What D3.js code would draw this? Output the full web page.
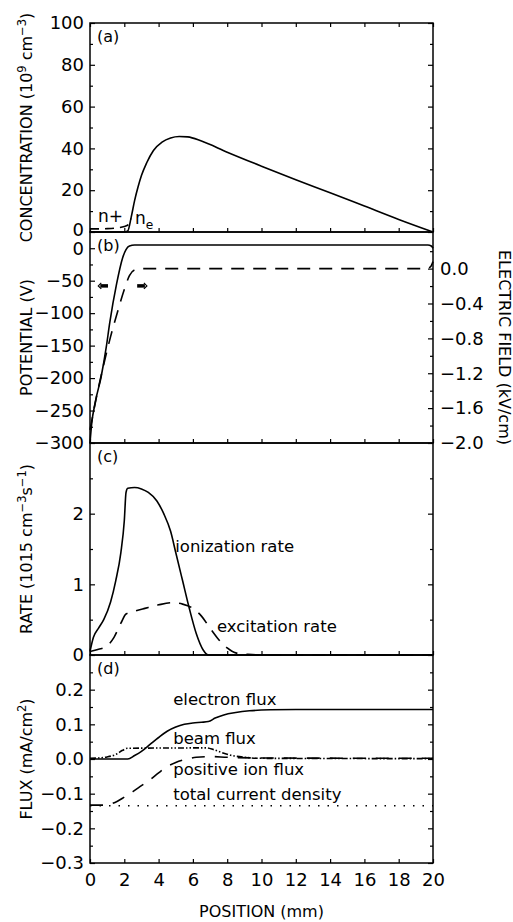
<!DOCTYPE html>
<html>
<head>
<meta charset="utf-8">
<script src="https://cdn.jsdelivr.net/npm/d3@7"></script>
<style>
  body { margin: 0; background: #fff; }
  svg text { font-family: "DejaVu Sans", sans-serif; fill: #000; }
</style>
</head>
<body>
<svg id="chart" width="513" height="922"></svg>
<script>
"use strict";

const width = 513
const height = 922

// (a) concentration, 10^9 cm^-3, [position mm, value]
const electronDensity = [[0, 0], [2.0, 0], [2.2, 0.5], [2.4, 7], [2.6, 15], [2.8, 21.5], [3.0, 27], [3.3, 33],
    [3.7, 39], [4.2, 43], [4.7, 45], [5.2, 45.7], [5.7, 45.5], [6.5, 43.5], [8, 38.2], [10, 31.5], [12, 25],
    [14, 18.8], [16, 12.4], [18, 6], [20, 0]]
const ionDensity = [[0, 1.5], [0.5, 1.5], [1.0, 1.6], [1.5, 1.9], [2.0, 2.6], [2.25, 3.6], [2.4, 6.5]]

// (b) potential (V) and electric field (kV/cm)
const potential = [[0, -300], [0.1, -270], [0.3, -238], [0.65, -198], [0.95, -152], [1.15, -115], [1.55, -55],
    [1.9, -15], [2.1, -2], [2.3, 3.5], [2.6, 5], [19.7, 5], [19.9, 3.5], [20, 0]]
const electricField = [[0, -1.85], [0.4, -1.45], [0.8, -1.1], [1.2, -0.78], [1.6, -0.5], [2.0, -0.24], [2.3, -0.08],
    [2.6, -0.015], [3.0, 0], [19.6, 0], [19.85, 0.02], [20, 0.08]]

// (c) rates, 10^15 cm^-3 s^-1
const ionizationRate = [[0, 0.05], [0.2, 0.25], [0.5, 0.38], [0.8, 0.5], [1.2, 0.75], [1.5, 1.05], [1.8, 1.45],
    [2.0, 1.9], [2.1, 2.3], [2.2, 2.36], [2.6, 2.37], [3.0, 2.35], [3.4, 2.3], [3.9, 2.18], [4.3, 2.0], [4.7, 1.75],
    [5.0, 1.45], [5.4, 1.05], [5.8, 0.65], [6.2, 0.3], [6.6, 0.07], [6.9, 0], [20, 0]]
const excitationRate = [[0, 0.05], [0.5, 0.08], [1.0, 0.13], [1.4, 0.25], [1.8, 0.45], [2.1, 0.58], [2.6, 0.62],
    [3.2, 0.66], [4.0, 0.71], [4.8, 0.74], [5.4, 0.72], [6.0, 0.66], [6.5, 0.55], [7.0, 0.38], [7.5, 0.22],
    [8.0, 0.1], [8.5, 0.03], [9.2, 0.01], [10, 0], [20, 0]]

// (d) fluxes, mA/cm2
const electronFlux = [[0, 0], [2.2, 0], [2.6, 0.01], [3.0, 0.022], [3.5, 0.042], [4.0, 0.062], [4.5, 0.08],
    [5.0, 0.092], [5.5, 0.1], [6.0, 0.104], [6.5, 0.106], [6.9, 0.108], [7.3, 0.118], [7.8, 0.127], [8.5, 0.134],
    [9.3, 0.139], [10.5, 0.142], [12, 0.143], [20, 0.143]]
const beamFlux = [[0, 0.002], [0.5, 0.003], [1.0, 0.006], [1.5, 0.013], [1.9, 0.025], [2.2, 0.031], [6.8, 0.032],
    [7.2, 0.027], [7.6, 0.02], [8.2, 0.011], [9, 0.005], [10, 0.002], [20, 0.001]]
const ionFlux = [[0, -0.133], [0.8, -0.133], [1.2, -0.13], [1.6, -0.122], [2.0, -0.11], [2.5, -0.094],
    [3.0, -0.077], [3.5, -0.06], [4.0, -0.04], [4.5, -0.022], [5.0, -0.01], [5.5, -0.002], [6.2, 0.005],
    [7, 0.007], [8, 0.005], [10, 0.003], [20, 0.002]]
const totalCurrent = [[0, -0.135], [20, -0.135]]

// ticks
const positionTicks = [0, 2, 4, 6, 8, 10, 12, 14, 16, 18, 20]
const concTicks = [0, 20, 40, 60, 80, 100]
const concMinor = [10, 30, 50, 70, 90]
const potentialTicks = [0, -50, -100, -150, -200, -250, -300]
const potentialMinor = [-25, -75, -125, -175, -225, -275]
const fieldTicks = [0, -0.4, -0.8, -1.2, -1.6, -2.0]
const fieldMinor = [0.2, -0.2, -0.6, -1.0, -1.4, -1.8]
const rateTicks = [0, 1, 2]
const rateMinor = [0.5, 1.5, 2.5]
const fluxTicks = [0.2, 0.1, 0, -0.1, -0.2, -0.3]
const fluxMinor = [0.25, 0.15, 0.05, -0.05, -0.15, -0.25]

const left = 90, right = 433
const tops = [23, 232, 443, 655], bottom = 863
const tickFont = 18

const x = d3.scaleLinear([0, 20], [left, right])
const yA = d3.scaleLinear([0, 100], [tops[1], tops[0]])
const yB = d3.scaleLinear([-300, 25], [tops[2], tops[1]])
const yE = d3.scaleLinear([-2, 0.42], [tops[2], tops[1]])
const yC = d3.scaleLinear([0, 3], [tops[3], tops[2]])
const yD = d3.scaleLinear([-0.3, 0.3], [bottom, tops[3]])

const svg = d3.select("#chart")
svg.append("rect").attr("width", width).attr("height", height).attr("fill", "#fff")

function styleAxis(g, size) {
    g.select(".domain").remove()
    g.selectAll("line").attr("stroke", "#000").attr("stroke-width", 1.2)
    g.selectAll("text").attr("font-size", size).attr("font-family", "DejaVu Sans").attr("fill", "#000")
}

function yAxes(scale, major, minor, fmt, withRight) {
    const g = svg.append("g").attr("transform", `translate(${left},0)`)
        .call(d3.axisLeft(scale).tickValues(major).tickSize(-5).tickPadding(6).tickFormat(fmt))
        .call(g => styleAxis(g, tickFont))
    svg.append("g").attr("transform", `translate(${left},0)`)
        .call(d3.axisLeft(scale).tickValues(minor).tickSize(-3).tickFormat(""))
        .call(g => styleAxis(g, tickFont))
    if (withRight) {
        svg.append("g").attr("transform", `translate(${right},0)`)
            .call(d3.axisRight(scale).tickValues(major).tickSize(-5).tickFormat(""))
            .call(g => styleAxis(g, tickFont))
        svg.append("g").attr("transform", `translate(${right},0)`)
            .call(d3.axisRight(scale).tickValues(minor).tickSize(-3).tickFormat(""))
            .call(g => styleAxis(g, tickFont))
    }
    return g
}

// frames
tops.forEach((t, i) => {
    const b = i < 3 ? tops[i + 1] : bottom
    svg.append("rect").attr("x", left).attr("y", t).attr("width", right - left).attr("height", b - t)
        .attr("fill", "none").attr("stroke", "#000").attr("stroke-width", 1.5)
    svg.append("g").attr("transform", `translate(0,${b})`)
        .call(d3.axisBottom(x).tickValues(positionTicks).tickSize(-4).tickPadding(10)
            .tickFormat(i == 3 ? d3.format("d") : ""))
        .call(g => styleAxis(g, tickFont))
})
svg.append("g").attr("transform", `translate(0,${tops[0]})`)
    .call(d3.axisTop(x).tickValues(positionTicks).tickSize(-4).tickFormat(""))
    .call(g => styleAxis(g, tickFont))

const axisA = yAxes(yA, concTicks, concMinor, d3.format("d"), true)
const axisB = yAxes(yB, potentialTicks, potentialMinor, d3.format("d"), false)
yAxes(yC, rateTicks, rateMinor, d3.format("d"), true)
yAxes(yD, fluxTicks, fluxMinor, d3.format(".1f"), true)

// the two zeros at the a/b boundary sit very close, nudge them apart a little
axisA.selectAll(".tick text").filter(d => d == 0).attr("y", -2)
axisB.selectAll(".tick text").filter(d => d == 0).attr("y", 1)

// right field axis
svg.append("g").attr("transform", `translate(${right},0)`)
    .call(d3.axisRight(yE).tickValues(fieldTicks).tickSize(-5).tickPadding(7).tickFormat(d3.format(".1f")))
    .call(g => styleAxis(g, tickFont))
svg.append("g").attr("transform", `translate(${right},0)`)
    .call(d3.axisRight(yE).tickValues(fieldMinor).tickSize(-3).tickFormat(""))
    .call(g => styleAxis(g, tickFont))

// curves
function curve(data, yScale, dash) {
    const line = d3.line().x(d => x(d[0])).y(d => yScale(d[1])).curve(d3.curveMonotoneX)
    svg.append("path").datum(data).attr("d", line)
        .attr("fill", "none").attr("stroke", "#000").attr("stroke-width", 1.6)
        .attr("stroke-dasharray", dash)
}

curve(electronDensity, yA, null)
curve(ionDensity, yA, "9,6")
curve(potential, yB, null)
curve(electricField, yE, "13,9")
curve(ionizationRate, yC, null)
curve(excitationRate, yC, "13,9")
curve(electronFlux, yD, null)
curve(beamFlux, yD, "6,2,1.5,2,1.5,2")
curve(ionFlux, yD, "13,10")
curve(totalCurrent, yD, "1.5,8")

// text helpers
function richText(g, parts, size) {
    const t = g.append("text").attr("font-size", size)
    let shift = 0
    parts.forEach(p => {
        const target = p.sup ? -6 : (p.sub ? 5 : 0)
        t.append("tspan").attr("dy", target - shift)
            .attr("font-size", p.sup || p.sub ? size * 0.72 : size)
            .text(p.t)
        shift = target
    })
    return t
}

function plainText(px, py, str, size) {
    return svg.append("text").attr("x", px).attr("y", py).attr("font-size", size).text(str)
}

// panel letters
const letters = ["(a)", "(b)", "(c)", "(d)"]
letters.forEach((l, i) => plainText(97, tops[i] + 19, l, 16))

// y titles
function leftTitle(parts, cy) {
    const g = svg.append("g").attr("transform", `translate(32,${cy}) rotate(-90)`)
    richText(g, parts, 16).attr("text-anchor", "middle")
}
leftTitle([{ t: "CONCENTRATION (10" }, { t: "9", sup: true }, { t: " cm" }, { t: "−3", sup: true }, { t: ")" }],
    (tops[0] + tops[1]) / 2)
leftTitle([{ t: "POTENTIAL (V)" }], (tops[1] + tops[2]) / 2)
leftTitle([{ t: "RATE (1015 cm" }, { t: "−3", sup: true }, { t: "s" }, { t: "−1", sup: true }, { t: ")" }],
    (tops[2] + tops[3]) / 2)
leftTitle([{ t: "FLUX (mA/cm" }, { t: "2", sup: true }, { t: ")" }], (tops[3] + bottom) / 2)

svg.append("g").attr("transform", `translate(499,${(tops[1] + tops[2]) / 2 + 10}) rotate(90)`)
    .append("text").attr("font-size", 16).attr("text-anchor", "middle").text("ELECTRIC FIELD (kV/cm)")

plainText((left + right) / 2, 917, "POSITION (mm)", 16).attr("text-anchor", "middle")

// curve labels
plainText(x(0.47), yA(5), "n+", 17)
richText(svg.append("g").attr("transform", `translate(${x(2.62)},${yA(3.7)})`), [{ t: "n" }, { t: "e", sub: true }], 17)

plainText(x(4.97), yC(1.46), "ionization rate", 16.5)
plainText(x(7.4), yC(0.33), "excitation rate", 16.5)

plainText(x(4.85), yD(0.155), "electron flux", 16.5)
plainText(x(4.85), yD(0.043), "beam flux", 16.5)
plainText(x(4.85), yD(-0.047), "positive ion flux", 16.5)
plainText(x(4.85), yD(-0.118), "total current density", 16.5)

// axis arrows in (b)
function axisArrow(x0, x1, yv, pointLeft) {
    svg.append("line").attr("x1", x(x0)).attr("x2", x(x1)).attr("y1", yB(yv)).attr("y2", yB(yv))
        .attr("stroke", "#000").attr("stroke-width", 3.5)
    const tip = pointLeft ? x(x0) - 2 : x(x1) + 2
    const d = pointLeft ? 3 : -3
    svg.append("path")
        .attr("d", `M${tip + d},${yB(yv) - 3}L${tip},${yB(yv)}L${tip + d},${yB(yv) + 3}`)
        .attr("fill", "none").attr("stroke", "#000").attr("stroke-width", 1.2)
}
axisArrow(0.6, 1.05, -58, true)
axisArrow(2.75, 3.2, -58, false)
</script>
</body>
</html>
